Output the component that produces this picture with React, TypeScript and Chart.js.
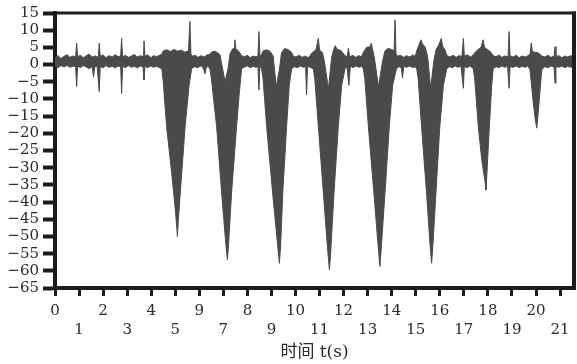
import React, { useEffect, useRef } from "react";
import { Chart, registerables } from "chart.js";

Chart.register(...registerables);

// Upper envelope of the signal: [time (s), value]
const UPPER_ENVELOPE: [number, number][] = [
  [0, 2.0], [0.12, 2.6], [0.25, 1.8], [0.38, 2.4], [0.5, 2.9], [0.62, 2.1], [0.75, 2.5], [0.86, 2.2],
  [0.9, 6.2], [0.94, 2.3], [1.05, 2.7], [1.18, 2.0], [1.3, 2.6], [1.42, 3.0], [1.55, 2.2], [1.68, 2.5],
  [1.8, 2.1], [1.84, 6.2], [1.88, 2.4], [2.0, 2.8], [2.12, 2.0], [2.25, 2.6], [2.38, 2.2], [2.5, 2.9],
  [2.62, 2.3], [2.73, 2.5], [2.77, 7.6], [2.81, 2.2], [2.92, 2.7], [3.05, 2.1], [3.18, 2.5], [3.3, 2.9],
  [3.42, 2.2], [3.55, 2.6], [3.66, 2.3], [3.7, 6.9], [3.74, 2.4], [3.86, 2.8], [3.98, 2.0], [4.1, 2.6],
  [4.22, 2.3], [4.34, 2.7],
  [4.44, 3.0], [4.5, 4.0], [4.65, 4.3], [4.8, 3.8], [4.95, 4.4], [5.1, 3.9], [5.25, 4.2], [5.4, 3.6],
  [5.55, 4.0], [5.61, 12.5], [5.65, 3.2], [5.7, 2.4],
  [5.82, 2.7], [5.95, 2.1], [6.08, 2.6], [6.2, 2.2], [6.32, 2.8],
  [6.44, 3.0], [6.5, 3.6], [6.62, 3.9], [6.75, 3.5], [6.86, 2.8], [6.95, -0.5], [7.07, -5.0], [7.2, -1.0],
  [7.28, 3.2], [7.38, 4.5], [7.45, 4.8], [7.48, 7.2], [7.52, 4.6], [7.65, 3.8], [7.76, 2.6],
  [7.88, 2.3], [8.0, 2.7], [8.12, 2.0], [8.24, 2.5], [8.36, 2.2], [8.44, 2.6], [8.48, 9.6], [8.52, 2.4],
  [8.59, 3.0], [8.66, 4.0], [8.8, 4.3], [8.95, 3.8], [9.07, 2.5], [9.2, -6.4], [9.33, -1.5], [9.42, 3.5],
  [9.55, 4.7], [9.7, 4.3], [9.84, 3.5], [9.9, 2.5],
  [10.02, 2.2], [10.15, 2.7], [10.28, 2.1], [10.4, 2.5], [10.52, 2.0], [10.6, 2.6],
  [10.7, 3.5], [10.85, 4.3], [10.95, 7.6], [11.0, 4.2], [11.12, 3.5], [11.2, 1.0], [11.37, -7.0], [11.5, 2.0],
  [11.58, 4.2], [11.65, 5.5], [11.72, 4.5], [11.9, 4.0], [12.06, 2.6],
  [12.15, 2.3], [12.2, 4.7], [12.25, 2.2], [12.38, 2.7], [12.5, 2.1], [12.62, 2.6], [12.74, 2.3],
  [12.82, 3.5], [12.95, 5.0], [13.1, 5.2], [13.15, 6.2], [13.2, 4.5], [13.28, 2.0], [13.45, -6.5], [13.62, 1.0],
  [13.72, 4.0], [13.85, 4.7], [14.0, 4.4], [14.1, 4.0], [14.14, 13.0], [14.18, 3.2], [14.24, 2.4],
  [14.36, 2.7], [14.5, 2.1], [14.62, 2.6], [14.75, 2.2], [14.88, 2.8], [14.98, 2.4],
  [15.04, 4.0], [15.15, 6.0], [15.22, 7.2], [15.28, 6.0], [15.4, 5.0], [15.5, 2.0], [15.62, -6.9], [15.75, 1.0],
  [15.85, 4.5], [15.95, 5.6], [16.06, 7.6], [16.12, 5.3], [16.22, 4.2], [16.3, 2.6],
  [16.42, 2.2], [16.55, 2.7], [16.68, 2.1], [16.8, 2.6], [16.92, 2.3], [16.98, 7.6], [17.02, 2.5], [17.15, 2.8],
  [17.28, 2.2],
  [17.39, 2.8], [17.5, 3.8], [17.62, 4.5], [17.72, 5.2], [17.8, 7.2], [17.86, 5.0], [17.98, 4.4], [18.1, 3.8],
  [18.22, 2.6],
  [18.34, 2.3], [18.46, 2.8], [18.58, 2.1], [18.7, 2.5], [18.84, 2.3], [18.88, 9.6], [18.92, 2.6], [19.05, 2.2],
  [19.18, 2.7], [19.3, 2.0], [19.42, 2.5], [19.55, 2.2], [19.66, 2.6],
  [19.75, 3.0], [19.8, 6.2], [19.85, 3.8], [19.95, 3.6], [20.1, 3.4], [20.24, 2.5],
  [20.36, 2.2], [20.5, 2.7], [20.62, 2.1], [20.75, 2.4], [20.79, 5.2], [20.83, 2.3], [20.95, 2.6], [21.08, 2.0],
  [21.2, 2.5], [21.32, 2.2], [21.45, 2.6], [21.58, 2.3],
];

// Lower envelope of the signal: [time (s), value]
const LOWER_ENVELOPE: [number, number][] = [
  [0, -0.4], [0.12, -0.9], [0.25, -0.3], [0.38, -0.7], [0.5, -0.2], [0.62, -0.8], [0.75, -0.5], [0.86, -0.6],
  [0.9, -6.4], [0.94, -0.4], [1.05, -0.9], [1.18, -0.3], [1.3, -0.7], [1.42, -1.2], [1.55, -0.6], [1.6, -3.6],
  [1.65, -0.8], [1.75, -0.4], [1.84, -7.9], [1.88, -0.6], [2.0, -0.9], [2.12, -0.3], [2.25, -0.8], [2.38, -0.5],
  [2.5, -1.0], [2.62, -0.4], [2.73, -0.7], [2.77, -8.4], [2.81, -0.5], [2.92, -0.9], [3.05, -0.3], [3.18, -0.8],
  [3.3, -0.5], [3.42, -1.0], [3.55, -0.4], [3.66, -0.7], [3.7, -4.5], [3.74, -0.5], [3.86, -0.9], [3.98, -0.4],
  [4.1, -0.8], [4.22, -0.5], [4.34, -0.9],
  [4.44, -1.2], [4.5, -5.0], [4.64, -18.0], [4.85, -31.5], [5.0, -42.0], [5.07, -48.0], [5.09, -50.0], [5.12, -46.0],
  [5.27, -31.5], [5.41, -18.0], [5.57, -6.4], [5.68, -1.2],
  [5.8, -0.6], [5.92, -0.9], [6.05, -0.4], [6.15, -0.8], [6.24, -2.7], [6.3, -0.5], [6.38, -0.8],
  [6.44, -1.2], [6.5, -4.0], [6.72, -18.0], [6.93, -37.4], [7.1, -52.0], [7.17, -56.8], [7.22, -52.0], [7.34, -37.4],
  [7.55, -18.0], [7.66, -8.5], [7.76, -1.2],
  [7.88, -0.7], [8.0, -0.4], [8.12, -0.9], [8.24, -0.5], [8.36, -0.8], [8.44, -0.6], [8.48, -7.4], [8.52, -0.5],
  [8.59, -1.2], [8.65, -4.0], [8.8, -18.0], [9.05, -37.4], [9.25, -52.0], [9.33, -57.8], [9.38, -53.0], [9.47, -37.4],
  [9.63, -18.0], [9.74, -6.0], [9.84, -1.2],
  [9.95, -0.6], [10.08, -0.9], [10.2, -0.4], [10.32, -0.8], [10.42, -0.6], [10.46, -8.8], [10.5, -0.5], [10.6, -0.8],
  [10.74, -1.2], [10.8, -4.0], [10.95, -18.0], [11.16, -37.4], [11.35, -55.0], [11.41, -59.7], [11.46, -55.0], [11.6, -37.4],
  [11.78, -18.0], [11.92, -6.0], [12.06, -1.2],
  [12.14, -0.6], [12.22, -6.0], [12.28, -0.5], [12.4, -0.9], [12.52, -0.4], [12.64, -0.8], [12.74, -0.5],
  [12.82, -1.2], [12.88, -4.0], [13.03, -18.0], [13.26, -37.4], [13.45, -54.0], [13.51, -58.7], [13.56, -54.0], [13.72, -37.4],
  [13.9, -18.0], [14.04, -6.0], [14.2, -1.2],
  [14.3, -0.6], [14.4, -0.9], [14.45, -3.9], [14.5, -0.5], [14.62, -0.8], [14.75, -0.4], [14.88, -0.9], [14.98, -0.6],
  [15.04, -1.2], [15.1, -4.0], [15.24, -18.0], [15.45, -37.4], [15.6, -53.0], [15.66, -57.8], [15.71, -53.0], [15.84, -37.4],
  [16.0, -18.0], [16.15, -6.0], [16.29, -1.2],
  [16.4, -0.6], [16.52, -0.9], [16.64, -0.4], [16.76, -0.8], [16.88, -0.5], [16.98, -6.9], [17.02, -0.6], [17.14, -0.9],
  [17.26, -0.4],
  [17.39, -1.2], [17.45, -4.0], [17.6, -18.0], [17.75, -28.0], [17.88, -34.0], [17.92, -36.5], [17.95, -33.0], [18.06, -18.0],
  [18.16, -6.0], [18.22, -1.2],
  [18.34, -0.6], [18.46, -0.9], [18.58, -0.4], [18.7, -0.8], [18.82, -0.5], [18.88, -6.9], [18.92, -0.6], [19.05, -0.8],
  [19.18, -0.4], [19.3, -0.9], [19.42, -0.5], [19.55, -0.8], [19.66, -0.4],
  [19.75, -1.5], [19.8, -5.0], [19.9, -12.0], [19.98, -16.5], [20.03, -18.5], [20.08, -15.0], [20.15, -9.0], [20.24, -1.5],
  [20.36, -0.6], [20.5, -0.9], [20.62, -0.4], [20.75, -0.7], [20.79, -5.4], [20.83, -0.5], [20.95, -0.8], [21.08, -0.4],
  [21.2, -0.9], [21.32, -0.5], [21.45, -0.8], [21.58, -0.5],
];

const X_TICKS = [0, 1, 2, 3, 4, 5, 6, 7, 8, 9, 10, 11, 12, 13, 14, 15, 16, 17, 18, 19, 20, 21];
const X_TICK_LABELS = ["0", "1", "2", "3", "4", "5", "9", "7", "8", "9", "10", "11", "12", "13", "14", "15", "16", "17", "18", "19", "20", "21"];
const Y_TICKS = [-65, -60, -55, -50, -45, -40, -35, -30, -25, -20, -15, -10, -5, 0, 5, 10, 15];
const X_TITLE = "时间 t(s)";

const INK = "#1c1c1c";
const TEXT = "#2a2a2a";
const WAVE = "#4a4a4a";
const FONT = "'DejaVu Serif', 'Liberation Serif', 'Noto Sans CJK SC', serif";

const framePlugin = {
  id: "frame",
  afterDraw(chart: any) {
    const { ctx, chartArea } = chart;
    const { left, right, top, bottom } = chartArea;
    ctx.save();
    ctx.strokeStyle = INK;
    ctx.lineWidth = 3;
    ctx.beginPath();
    ctx.moveTo(left, top);
    ctx.lineTo(right + 2, top);
    ctx.stroke();
    ctx.lineWidth = 4;
    ctx.beginPath();
    ctx.moveTo(right, top - 1.5);
    ctx.lineTo(right, bottom + 2);
    ctx.stroke();
    ctx.restore();
  },
};

export default function App() {
  const ref = useRef<HTMLCanvasElement | null>(null);

  useEffect(() => {
    document.body.style.margin = "0";
    const canvas = ref.current;
    if (!canvas) return;
    const chart = new Chart(canvas, {
      type: "line",
      data: {
        datasets: [
          {
            data: UPPER_ENVELOPE.map(([x, y]) => ({ x, y })),
            borderColor: WAVE,
            borderWidth: 1,
            pointRadius: 0,
            fill: false,
            tension: 0,
          },
          {
            data: LOWER_ENVELOPE.map(([x, y]) => ({ x, y })),
            borderColor: WAVE,
            borderWidth: 1,
            pointRadius: 0,
            backgroundColor: WAVE,
            fill: "-1",
            tension: 0,
          },
        ],
      },
      options: {
        animation: false,
        responsive: false,
        devicePixelRatio: 1,
        layout: { padding: { top: 13, right: 3, left: 0, bottom: 0 } },
        plugins: {
          legend: { display: false },
          tooltip: { enabled: false },
        },
        scales: {
          x: {
            type: "linear",
            min: 0,
            max: 21.58,
            afterFit: (s: any) => {
              s.height = 76;
            },
            afterBuildTicks: (s: any) => {
              s.ticks = X_TICKS.map((v) => ({ value: v }));
            },
            border: { display: true, width: 4, color: INK },
            grid: {
              drawOnChartArea: false,
              drawTicks: true,
              tickLength: 8,
              tickWidth: 3,
              tickColor: INK,
            },
            ticks: {
              autoSkip: false,
              maxRotation: 0,
              padding: 6,
              color: TEXT,
              font: { family: FONT, size: 15, lineHeight: 1.27 },
              callback: (_v: any, i: number) =>
                i % 2 === 0 ? [X_TICK_LABELS[i], ""] : ["", X_TICK_LABELS[i]],
            },
            title: {
              display: true,
              text: X_TITLE,
              color: TEXT,
              font: { family: FONT, size: 17 },
              padding: { top: 0, bottom: 1 },
            },
          },
          y: {
            type: "linear",
            min: -65,
            max: 15,
            afterFit: (s: any) => {
              s.width = 55;
            },
            afterBuildTicks: (s: any) => {
              s.ticks = Y_TICKS.map((v) => ({ value: v }));
            },
            border: { display: true, width: 4, color: INK },
            grid: {
              drawOnChartArea: false,
              drawTicks: true,
              tickLength: 12,
              tickWidth: 4,
              tickColor: INK,
            },
            ticks: {
              autoSkip: false,
              padding: 4,
              color: TEXT,
              font: { family: FONT, size: 15, lineHeight: 1 },
              callback: (v: any) => (v < 0 ? "\u2212" + Math.abs(v) : String(v)),
            },
          },
        },
      },
      plugins: [framePlugin],
    });
    return () => chart.destroy();
  }, []);

  return (
    <div style={{ position: "absolute", left: 0, top: 0, width: 577, height: 364, background: "#fff" }}>
      <canvas ref={ref} width={577} height={364} />
    </div>
  );
}
